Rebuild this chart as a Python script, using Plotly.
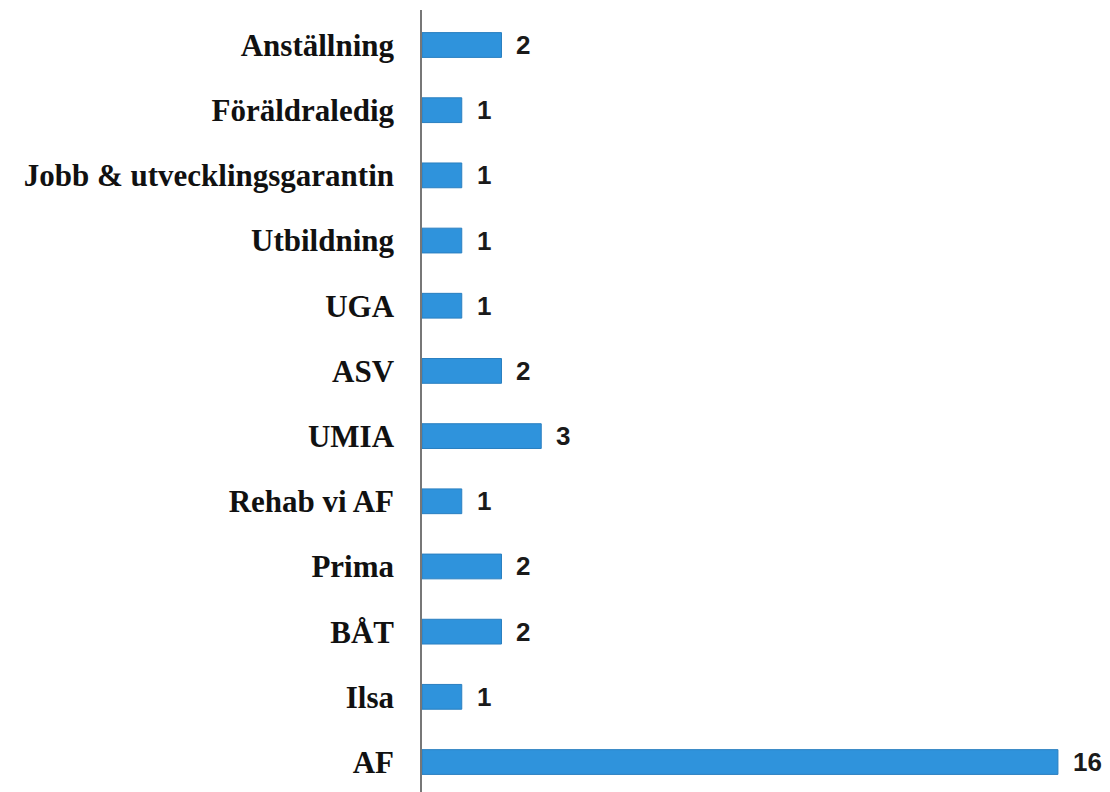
import plotly.graph_objects as go

categories = ["Anställning", "Föräldraledig", "Jobb & utvecklingsgarantin", "Utbildning",
              "UGA", "ASV", "UMIA", "Rehab vi AF", "Prima", "BÅT", "Ilsa", "AF"]
values = [2, 1, 1, 1, 1, 2, 3, 1, 2, 2, 1, 16]

fig = go.Figure()
fig.add_trace(go.Bar(
    y=categories, x=values, orientation="h",
    marker=dict(color="#2f93dc", line=dict(color="#2a7fc0", width=1)),
    width=0.38, hoverinfo="x+y",
))

for c, v in zip(categories, values):
    fig.add_annotation(x=v, y=c, text=f"<b>{v}</b>", showarrow=False,
                       xanchor="left", xshift=13,
                       font=dict(family="Liberation Sans, Arial", size=26, color="#1a1a1a"))

fig.update_layout(
    width=1102, height=784,
    margin=dict(l=414, r=0, t=2, b=0),
    paper_bgcolor="white", plot_bgcolor="white",
    showlegend=False,
    xaxis=dict(range=[0, 17.31], visible=False),
    yaxis=dict(type="category", categoryorder="array", categoryarray=categories,
               range=[11.46, -0.537], showline=True, linecolor="#777777", linewidth=1.5,
               ticks="", showgrid=False, zeroline=False, ticklabelstandoff=20,
               automargin=False,
               tickfont=dict(family="Liberation Serif, Times New Roman", size=31, color="#111111"),
               tickprefix="<b>", ticksuffix="</b>"),
)

fig.write_html("out.html")
